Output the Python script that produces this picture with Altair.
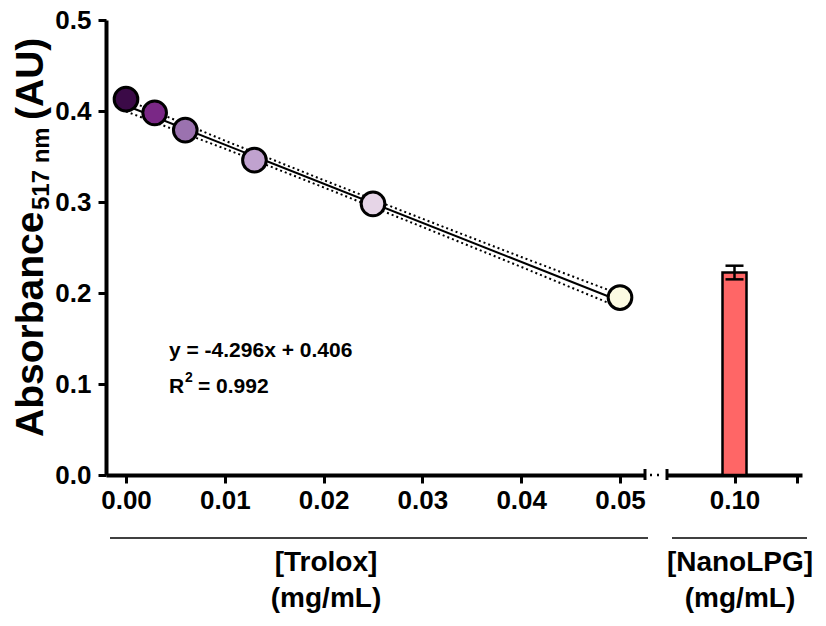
import altair as alt
import pandas as pd

# ---------------- data ----------------
trolox_conc = [0.0, 0.0029, 0.006, 0.013, 0.025, 0.05]
trolox_abs = [0.413, 0.398, 0.379, 0.346, 0.298, 0.195]
point_colors = ["#3b0a47", "#7a2886", "#9b72af", "#c0a2cf", "#e6d5e7", "#fcfbe2"]

fit_conc = [0.0, 0.05]
fit_abs = [0.406, 0.1912]

band_conc = [0.0, 0.01, 0.02, 0.03, 0.04, 0.05]
band_upper = [0.4125, 0.3675, 0.3241, 0.2816, 0.2396, 0.1985]
band_lower = [0.3995, 0.3586, 0.3161, 0.2726, 0.2287, 0.1839]

nano_conc = [0.10]
nano_abs = [0.2225]
nano_err = [0.0075]

trolox_ticks = [0.0, 0.01, 0.02, 0.03, 0.04, 0.05]
nano_ticks = [0.10, 0.11]
y_ticks = [0.0, 0.1, 0.2, 0.3, 0.4, 0.5]

# ---------------- frames ----------------
df_pts = pd.DataFrame({"x": trolox_conc, "y": trolox_abs, "c": point_colors, "o": list(range(len(trolox_conc)))})
df_fit = pd.DataFrame({"x": fit_conc, "y": fit_abs})
df_band = pd.concat([
    pd.DataFrame({"x": band_conc, "y": band_upper, "b": "upper"}),
    pd.DataFrame({"x": band_conc, "y": band_lower, "b": "lower"}),
])
df_bar = pd.DataFrame({"x": nano_conc, "y": nano_abs})
df_err = pd.DataFrame({"x": nano_conc,
                       "lo": [m - e for m, e in zip(nano_abs, nano_err)],
                       "hi": [m + e for m, e in zip(nano_abs, nano_err)]})
df_caps = pd.DataFrame({"x": nano_conc * 2, "y": list(df_err["lo"]) + list(df_err["hi"])})
dummy = pd.DataFrame({"d": [0]})

FONT = "Liberation Sans"
W, H = 696, 455
TOP = 12  # padding top -> plot top at y = 20

xA = alt.Scale(domain=[-0.002024, 0.05253], range=[0, 539], nice=False, zero=False)
xB = alt.Scale(domain=[0.09, 0.11], range=[561, 696], nice=False, zero=False)
ys = alt.Scale(domain=[0, 0.5], nice=False)

axis_common = dict(title=None, grid=False, domainColor="black", domainWidth=4,
                   tickColor="black", tickWidth=3, tickSize=8,
                   labelFont=FONT, labelFontSize=26, labelFontWeight="bold",
                   labelColor="black", labelFlush=False)
axA = alt.Axis(orient="bottom", values=trolox_ticks, format=".2f", labelPadding=4, **axis_common)
axB = alt.Axis(orient="bottom", values=nano_ticks, labelPadding=4,
               labelExpr="datum.value < 0.105 ? format(datum.value, '.2f') : ''", **axis_common)
axY = alt.Axis(orient="left", values=y_ticks, format=".1f", labelPadding=7, **axis_common)

Y = alt.Y("y:Q", scale=ys, axis=axY)

band = alt.Chart(df_band).mark_line(color="black", strokeWidth=2, strokeDash=[2, 3]).encode(
    x=alt.X("x:Q", scale=xA, axis=None), y=Y, detail="b:N")
fit = alt.Chart(df_fit).mark_line(color="black", strokeWidth=2).encode(
    x=alt.X("x:Q", scale=xA, axis=None), y=Y)
pts = alt.Chart(df_pts).mark_circle(size=560, opacity=1, stroke="black", strokeWidth=3).encode(
    x=alt.X("x:Q", scale=xA, axis=axA), y=Y,
    color=alt.Color("c:N", scale=None), order="o:Q")
bar = alt.Chart(df_bar).mark_bar(size=24, color="#ff6666", stroke="black", strokeWidth=2.5).encode(
    x=alt.X("x:Q", scale=xB, axis=axB), y=Y, y2=alt.datum(0))
err = alt.Chart(df_err).mark_rule(color="black", strokeWidth=2.5).encode(
    x=alt.X("x:Q", scale=xB, axis=None), y=alt.Y("lo:Q", scale=ys, axis=axY), y2="hi:Q")
caps = alt.Chart(df_caps).mark_tick(orient="horizontal", size=18, thickness=2.5, color="black", opacity=1).encode(
    x=alt.X("x:Q", scale=xB, axis=None), y=Y)


def txt(s, x, y, size, angle=0, align="left", baseline="alphabetic"):
    return alt.Chart(dummy).mark_text(text=s, fontSize=size, font=FONT, fontWeight="bold",
                                      angle=angle, align=align, baseline=baseline,
                                      color="black").encode(x=alt.value(x), y=alt.value(y))


def rule(x1, x2, y1, y2, width, dash=None):
    kw = dict(color="black", strokeWidth=width)
    if dash:
        kw["strokeDash"] = dash
    return alt.Chart(dummy).mark_rule(**kw).encode(
        x=alt.value(x1), x2=alt.value(x2), y=alt.value(y1), y2=alt.value(y2))


annotations = [
    # y title
    txt("Absorbance", -63, 417, 39, angle=270),
    txt("517 nm", -57, 190, 24, angle=270),
    txt("(AU)", -63, 100, 39, angle=270),
    # regression text
    txt("y = -4.296x + 0.406", 63, 337, 21),
    txt("R", 63, 373, 21),
    txt("2", 79, 362, 14),
    txt("= 0.992", 92, 373, 21),
    # x titles
    txt("[Trolox]", 220, 543, 28, align="center", baseline="middle"),
    txt("(mg/mL)", 220, 579, 28, align="center", baseline="middle"),
    txt("[NanoLPG]", 634, 543, 28, align="center", baseline="middle"),
    txt("(mg/mL)", 634, 579, 28, align="center", baseline="middle"),
    # overlines
    rule(4, 542, 518, 518, 1.5),
    rule(566, 701, 518, 518, 1.5),
    # axis break
    rule(539, 539, 449, 460, 3),
    rule(561, 561, 449, 460, 3),
    rule(544, 557, 455, 455, 2.5, dash=[2, 5]),
]

chart = alt.layer(band, fit, pts, bar, err, caps, *annotations).resolve_scale(
    x="independent").resolve_axis(x="independent").properties(
    width=W, height=H,
    autosize=alt.AutoSizeParams(type="none"),
    padding={"left": 98, "top": TOP, "right": 16, "bottom": 141},
).configure_view(stroke=None)

chart.save("out.html", embed_options={"renderer": "svg", "actions": False})
